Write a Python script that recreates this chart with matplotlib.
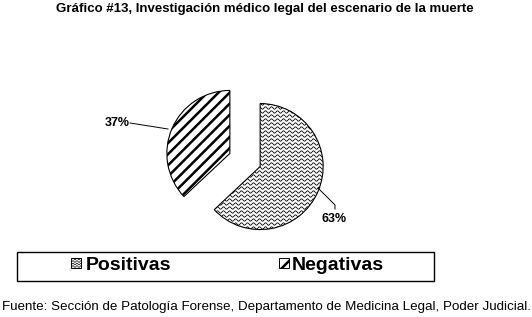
import numpy as np
import matplotlib
matplotlib.use("Agg")
import matplotlib.pyplot as plt
from matplotlib.patches import Rectangle

# ---- data ----
categories = ["Positivas", "Negativas"]
values = [63, 37]
labels = [f"{v}%" for v in values]
title = "Gráfico #13, Investigación médico legal del escenario de la muerte"
source = "Fuente: Sección de Patología Forense, Departamento de Medicina Legal, Poder Judicial."

W, H = 532, 317
plt.rcParams["hatch.linewidth"] = 1.8
plt.rcParams["hatch.color"] = "black"

fig = plt.figure(figsize=(W / 100, H / 100), dpi=100)
ax = fig.add_axes([0, 0, 1, 1])

def Y(py):
    return H - py

center = (245, Y(160))
radius = 63
wedges, _ = ax.pie(values, startangle=90, counterclock=False, radius=radius,
                   center=center, explode=[16.5, 16.5],
                   colors=["white", "white"],
                   wedgeprops=dict(edgecolor="black", linewidth=0.8))
wedges[1].set_hatch("///")

ax.set_xlim(0, W)
ax.set_ylim(0, H)
ax.set_aspect("auto")
ax.axis("off")

def wavy_fill(patch, x0, x1, y0, y1, spacing=4.0, period=6.0, amp=1.2, lw=0.6):
    xs = np.linspace(x0, x1, int((x1 - x0) * 4))
    yy = y0
    while yy <= y1:
        ln, = ax.plot(xs, yy + amp * np.sin(2 * np.pi * xs / period),
                      color="black", linewidth=lw, solid_capstyle="butt")
        ln.set_clip_path(patch)
        yy += spacing

wavy_fill(wedges[0], 190, 330, Y(232), Y(98))

# labels with leader lines
ax.text(334, Y(219), labels[0], ha="center", va="center", fontsize=9,
        fontweight="bold", family="Liberation Sans")
ax.plot([318, 335, 335], [Y(188), Y(205), Y(209)], color="black", lw=0.7)
ax.text(117, Y(123), labels[1], ha="center", va="center", fontsize=9,
        fontweight="bold", family="Liberation Sans")
ax.plot([130, 168], [Y(123), Y(129)], color="black", lw=0.7)

# title
ax.text(265, Y(9), title, ha="center", va="center", fontsize=9.5,
        fontweight="bold", family=["Liberation Sans Narrow", "Liberation Sans"])

# legend
ax.add_patch(Rectangle((17, Y(280.5)), 416.5, 29, facecolor="white",
                       edgecolor="black", linewidth=1.0))
lp = Rectangle((71, Y(268)), 10, 10, facecolor="white", edgecolor="black", lw=0.7)
ax.add_patch(lp)
wavy_fill(lp, 70, 82, Y(269), Y(257), spacing=2.5, period=4.0, amp=0.8, lw=0.5)
ln_ = Rectangle((279, Y(268)), 10, 10, facecolor="white", edgecolor="black",
                lw=0.7, hatch="//")
ax.add_patch(ln_)
ax.text(86, Y(266), categories[0], ha="left", va="center", fontsize=14,
        fontweight="bold", family="Liberation Sans")
ax.text(292, Y(266), categories[1], ha="left", va="center", fontsize=14,
        fontweight="bold", family="Liberation Sans")

# source
ax.text(266.5, Y(307), source, ha="center", va="center", fontsize=9.6,
        family="Liberation Sans")

fig.savefig("out.png", dpi=100)
